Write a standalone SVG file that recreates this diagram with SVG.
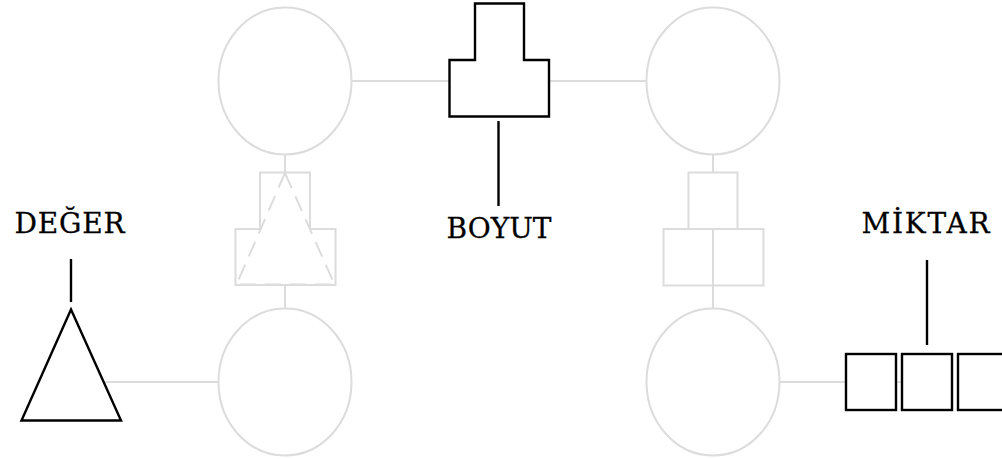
<svg xmlns="http://www.w3.org/2000/svg" width="1002" height="459" viewBox="0 0 1002 459">
  <style>
    .g { fill: none; stroke: #dcdcdc; stroke-width: 2; }
    .gf { fill: #ffffff; stroke: #dcdcdc; stroke-width: 2; }
    .k { fill: #ffffff; stroke: #000000; stroke-width: 2.4; stroke-linejoin: miter; }
    .kl { fill: none; stroke: #000000; stroke-width: 2.4; }
    .dash { fill: none; stroke: #dcdcdc; stroke-width: 2; stroke-dasharray: 16 9; }
    .lbl { font-family: "DejaVu Serif", "Liberation Serif", serif; font-size: 28px; fill: #000000; stroke: #000000; stroke-width: 0.3; text-anchor: middle; }
  </style>
  <rect width="1002" height="459" fill="#ffffff"/>
  <g id="connectors">
    <line class="g" x1="351.5" y1="81" x2="449" y2="81"/>
    <line class="g" x1="549" y1="81" x2="646.5" y2="81"/>
    <line class="g" x1="285" y1="154.5" x2="285" y2="173"/>
    <line class="g" x1="285" y1="285" x2="285" y2="308.5"/>
    <line class="g" x1="713" y1="154.5" x2="713" y2="173"/>
    <line class="g" x1="713" y1="229" x2="713" y2="308.5"/>
    <line class="g" x1="90" y1="382" x2="218.5" y2="382"/>
    <line class="g" x1="779.5" y1="382" x2="927" y2="382"/>
    <line class="kl" x1="71" y1="259" x2="71" y2="302"/>
    <line class="kl" x1="498.5" y1="121" x2="498.5" y2="206"/>
    <line class="kl" x1="927" y1="260" x2="927" y2="345"/>
  </g>
  <g id="circle-top-left"><ellipse class="gf" cx="285" cy="81" rx="66.5" ry="73.5"/></g>
  <g id="circle-top-right"><ellipse class="gf" cx="713" cy="81" rx="66.5" ry="73.5"/></g>
  <g id="circle-bottom-left"><ellipse class="gf" cx="285" cy="382" rx="66.5" ry="73.5"/></g>
  <g id="circle-bottom-right"><ellipse class="gf" cx="713" cy="382" rx="66.5" ry="73.5"/></g>
  <g id="node-left-middle">
    <path class="g" d="M260,172.5 H310 V229 H335.5 V285 H235.5 V229 H260 Z"/>
    <polygon class="dash" points="285,173 236.5,284.5 334.5,284.5"/>
  </g>
  <g id="node-right-middle">
    <path class="g" d="M688.5,172.5 H737.5 V229 H763.5 V285.5 H663.5 V229 H688.5 Z"/>
    <line class="g" x1="688.5" y1="229" x2="737.5" y2="229"/>
  </g>
  <g id="node-boyut">
    <path class="k" d="M475,3.5 H524 V60 H549 V116.5 H449.5 V60 H475 Z"/>
    <text class="lbl" x="499" y="238">BOYUT</text>
  </g>
  <g id="node-deger">
    <polygon class="k" points="71,309.5 21.5,420.5 121,420.5"/>
    <text class="lbl" x="69.5" y="233" textLength="110">DEĞER</text>
  </g>
  <g id="node-miktar">
    <rect class="k" x="846" y="354" width="50" height="56"/>
    <rect class="k" x="902" y="354" width="50" height="56"/>
    <rect class="k" x="958" y="354" width="50" height="56"/>
    <text class="lbl" x="925.5" y="232.5" textLength="128">MİKTAR</text>
  </g>
</svg>
